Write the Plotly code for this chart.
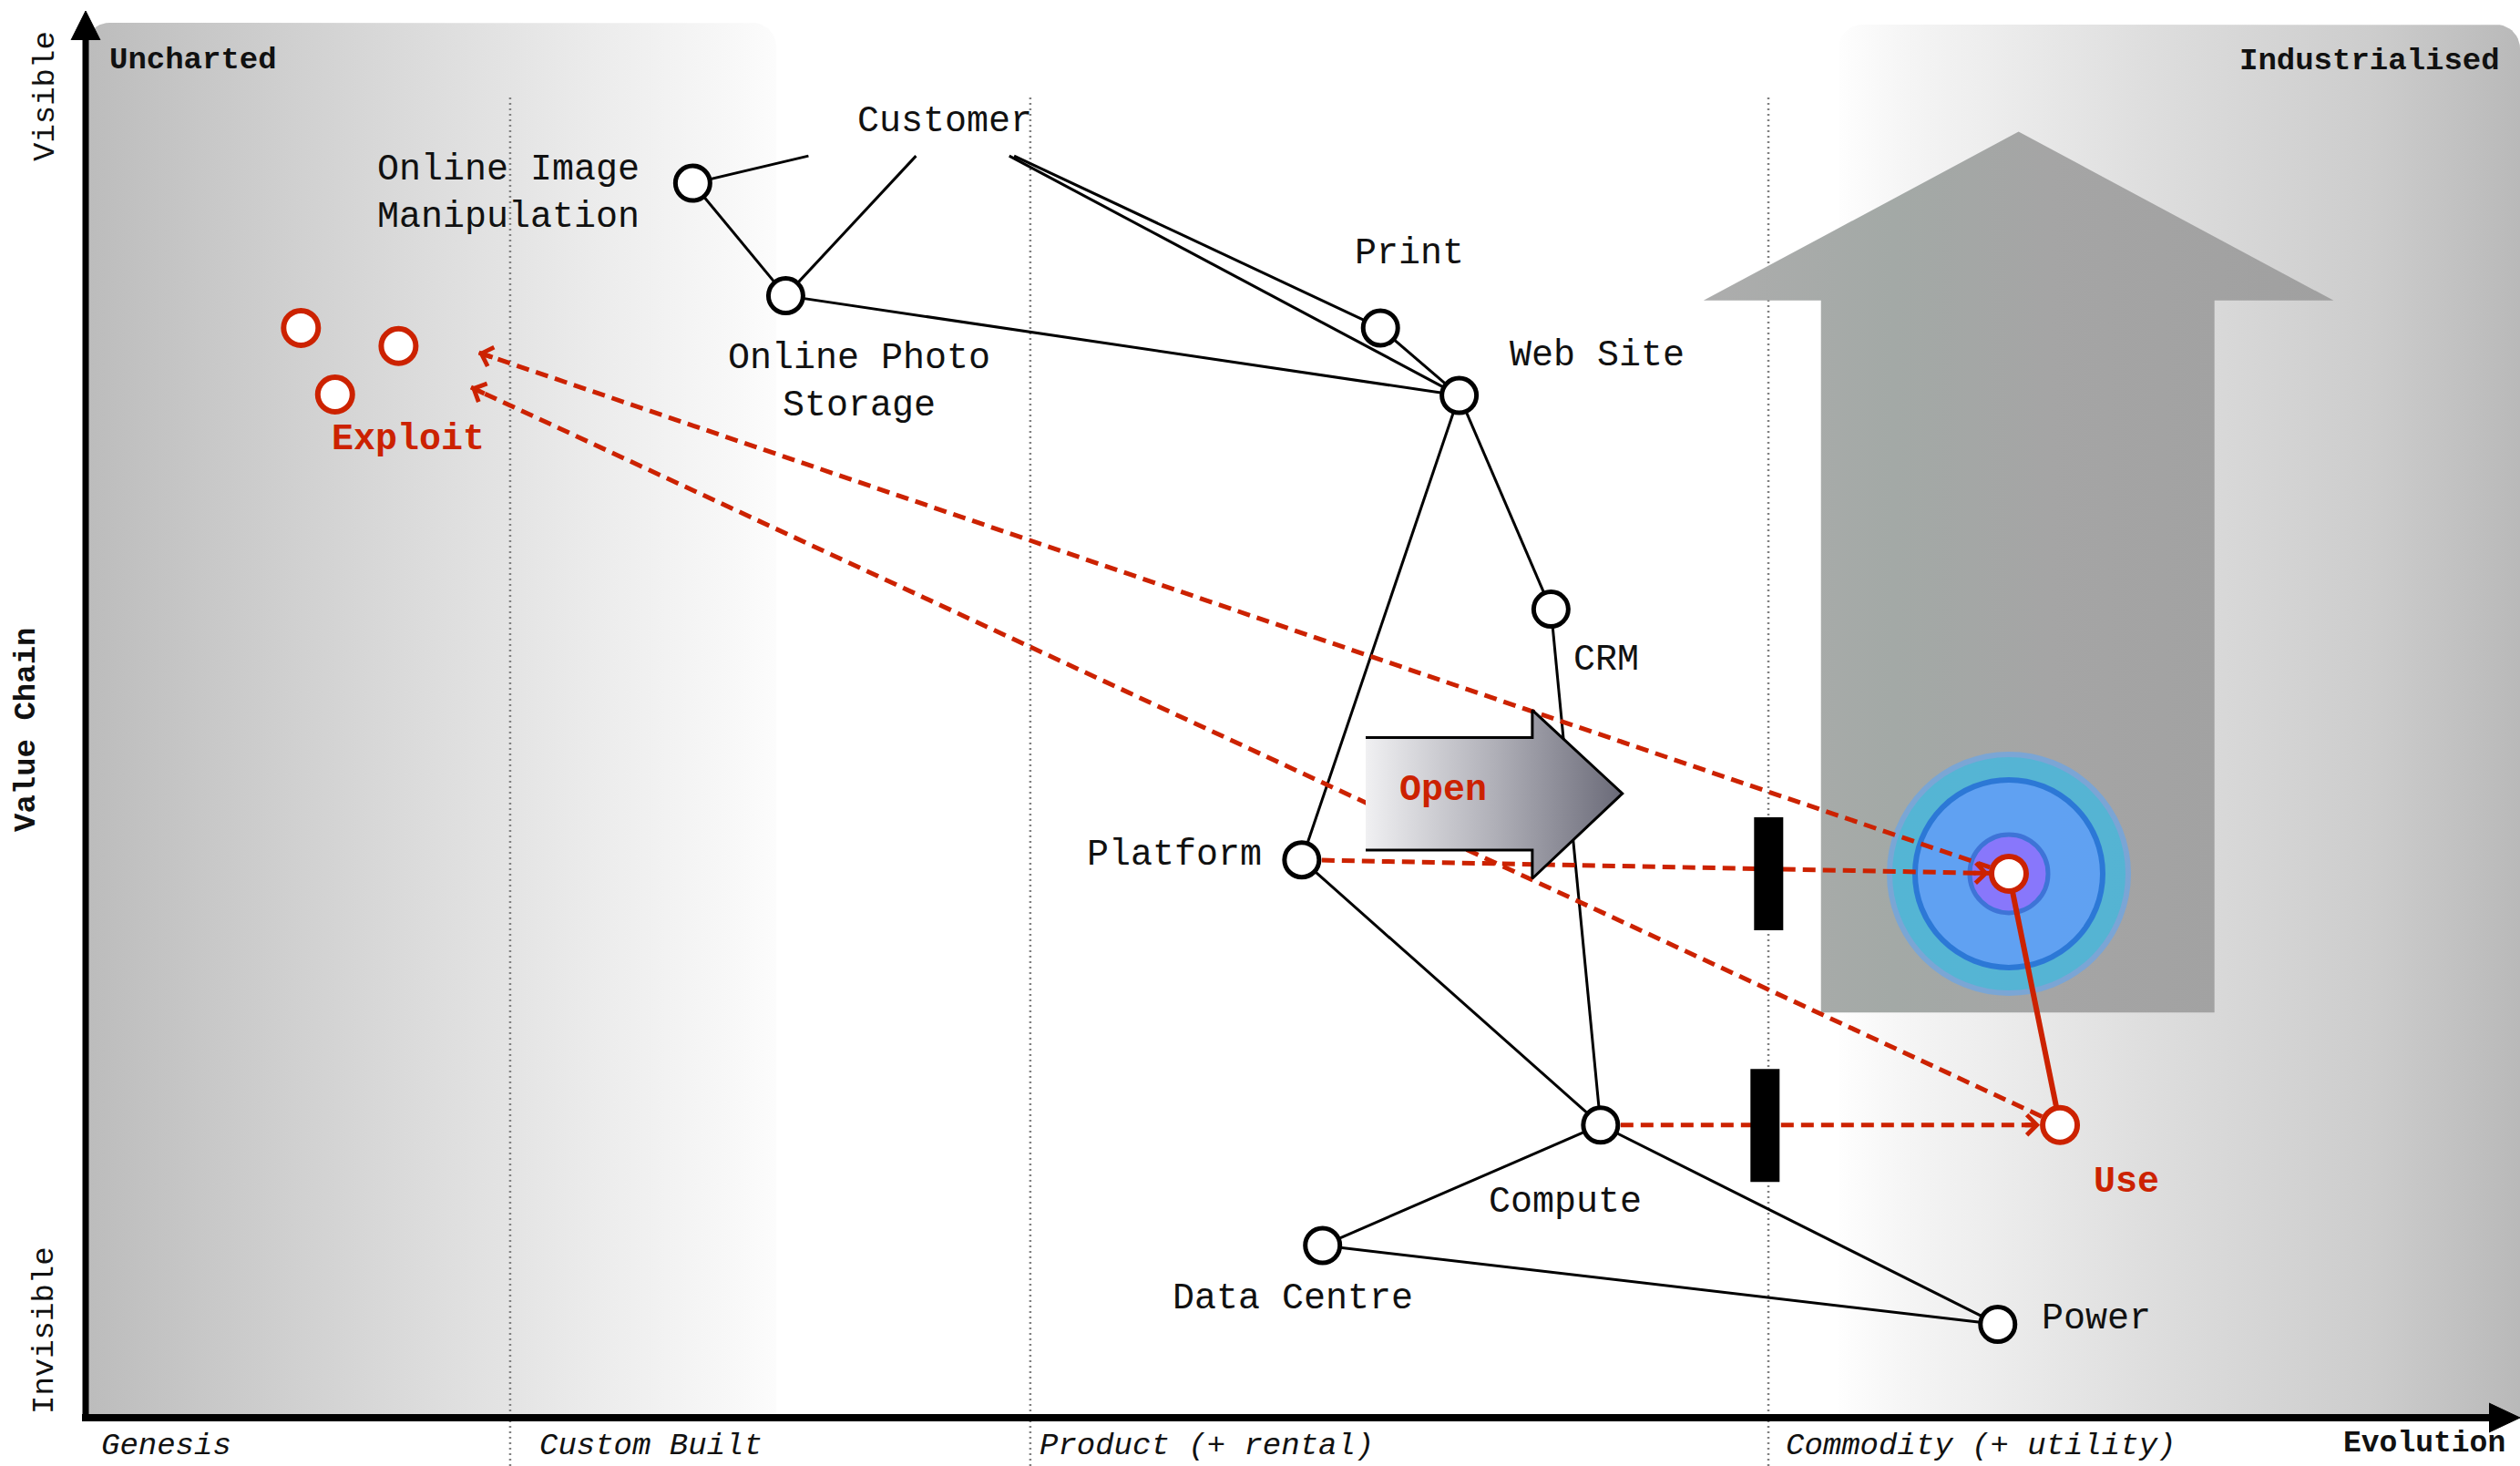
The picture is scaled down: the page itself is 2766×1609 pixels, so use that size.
import numpy as np
import plotly.graph_objects as go

# ---------------- data (evolution 0..1, visibility 0..1) ----------------
components = ["Online Image<br>Manipulation", "Online Photo<br>Storage", "Print", "Web Site",
              "CRM", "Platform", "Compute", "Data Centre", "Power"]
evolution = [0.2507, 0.2891, 0.5347, 0.5672, 0.6051, 0.5022, 0.6256, 0.5108, 0.7896]
visibility = [0.8827, 0.8022, 0.7792, 0.7309, 0.5781, 0.3989, 0.2093, 0.1231, 0.0668]
links = [(0, 1), (1, 3), (2, 3), (3, 4), (3, 5), (4, 6), (5, 6), (6, 7), (6, 8), (7, 8)]

customer_label = "Customer"
customer_evolution = 0.3548
customer_visibility = 0.9264
customer_link_from_evolution = [0.2985, 0.3429, 0.3834, 0.3814]
customer_link_from_visibility = 0.9022
customer_link_to = [0, 1, 2, 3]

future_labels = ["Platform (utility)", "Use"]
future_evolution = [0.7942, 0.8153]
future_visibility = [0.3890, 0.2093]

exploit_evolution = [0.0889, 0.1292, 0.1030]
exploit_visibility = [0.7792, 0.7663, 0.7316]
exploit_target_evolution = [0.1622, 0.1591]
exploit_target_visibility = [0.7616, 0.7368]

inertia_evolution = [0.6950, 0.6935]
inertia_visibility = [0.3890, 0.2090]

stage_labels = ["Genesis", "Custom Built", "Product (+ rental)", "Commodity (+ utility)"]
stage_boundaries = [0.1753, 0.3901, 0.6949]

open_arrow_evolution = [0.5286, 0.5974, 0.5974, 0.6346, 0.5974, 0.5974, 0.5286]
open_arrow_visibility = [0.4864, 0.4864, 0.5059, 0.4463, 0.3855, 0.4059, 0.4059]

industrial_arrow_evolution = [0.7166, 0.7166, 0.6681, 0.7982, 0.9283, 0.8791, 0.8791]
industrial_arrow_visibility = [0.2897, 0.7988, 0.7988, 0.9195, 0.7988, 0.7988, 0.2897]

# ---------------- geometry helpers ----------------
W, H = 2766, 1609
X0, XS = 94.0, 2658.0    # pixel of evolution 0, pixels per unit
Y0, YS = 1556.0, 1535.0  # pixel of visibility 0, pixels per unit


def ex(px):
    return (px - X0) / XS


def vy(py):
    return (Y0 - py) / YS


RED = "#cc2200"
FONT = "Liberation Mono"


def panel(x0, y0, x1, y1, r, tl, tr):
    pts = [(x0, y1)]
    if tl:
        for t in np.linspace(np.pi, np.pi / 2, 12):
            pts.append((x0 + r + r * np.cos(t), y0 + r - r * np.sin(t)))
    else:
        pts.append((x0, y0))
    if tr:
        for t in np.linspace(np.pi / 2, 0, 12):
            pts.append((x1 - r + r * np.cos(t), y0 + r - r * np.sin(t)))
    else:
        pts.append((x1, y0))
    pts.append((x1, y1))
    return [ex(p[0]) for p in pts], [vy(p[1]) for p in pts]


fig = go.Figure()

# background panels
lx, ly = panel(X0, 25, 852, Y0, 26, True, True)
fig.add_trace(go.Scatter(x=lx, y=ly, mode="lines", fill="toself", line=dict(width=0),
                         fillgradient=dict(type="horizontal",
                                           colorscale=[[0, "#bcbcbc"], [0.3, "#d0d0d0"],
                                                       [0.65, "#e6e6e6"], [1, "#fcfcfc"]]),
                         hoverinfo="skip", showlegend=False))
rx, ry = panel(2018, 27, W, Y0, 26, True, True)
fig.add_trace(go.Scatter(x=rx, y=ry, mode="lines", fill="toself", line=dict(width=0),
                         fillgradient=dict(type="horizontal",
                                           colorscale=[[0, "#fefefe"], [0.1, "#f5f5f5"],
                                                       [0.45, "#dedede"], [0.78, "#cdcdcd"],
                                                       [1, "#b9b9b9"]]),
                         hoverinfo="skip", showlegend=False))

# stage dotted lines
gx, gy = [], []
for b in stage_boundaries:
    gx += [b, b, None]
    gy += [vy(107), vy(H), None]
fig.add_trace(go.Scatter(x=gx, y=gy, mode="lines",
                         line=dict(color="#808080", width=2.5, dash="2px,4px"),
                         hoverinfo="skip", showlegend=False))

# industrialisation arrow
fig.add_trace(go.Scatter(x=industrial_arrow_evolution, y=industrial_arrow_visibility,
                         mode="lines", fill="toself", line=dict(width=0),
                         fillgradient=dict(type="horizontal",
                                           colorscale=[[0, "#adadad"], [0.3, "#a3a9a6"],
                                                       [0.55, "#a5a5a5"], [1, "#a0a0a0"]]),
                         hoverinfo="skip", showlegend=False))

# target rings around the utility platform
fig.add_trace(go.Scatter(x=[future_evolution[0]] * 3, y=[future_visibility[0]] * 3, mode="markers",
                         marker=dict(size=[262, 206, 86],
                                     color=["#34bbe8", "#6699ff", "#9966ff"],
                                     line=dict(color=["#6aa6ea", "#1c5fd8", "#3062cc"],
                                               width=[6, 6, 5])),
                         hoverinfo="skip", showlegend=False))

# value chain links
ex_, vy_ = [], []
for a, b in links:
    ex_ += [evolution[a], evolution[b], None]
    vy_ += [visibility[a], visibility[b], None]
for s, t in zip(customer_link_from_evolution, customer_link_to):
    ex_ += [s, evolution[t], None]
    vy_ += [customer_link_from_visibility, visibility[t], None]
fig.add_trace(go.Scatter(x=ex_, y=vy_, mode="lines", line=dict(color="#000000", width=3),
                         hoverinfo="skip", showlegend=False))

# solid red link platform(utility) - use
fig.add_trace(go.Scatter(x=future_evolution, y=future_visibility, mode="lines",
                         line=dict(color=RED, width=6), hoverinfo="skip", showlegend=False))

# dashed red movements
moves = [
    (evolution[5], visibility[5], future_evolution[0], future_visibility[0], 22),
    (evolution[6], visibility[6], future_evolution[1], future_visibility[1], 22),
    (future_evolution[0], future_visibility[0], exploit_target_evolution[0], exploit_target_visibility[0], 0),
    (future_evolution[1], future_visibility[1], exploit_target_evolution[1], exploit_target_visibility[1], 0),
]
mx, my = [], []
for a, b, c, d, _ in moves:
    mx += [a, c, None]
    my += [b, d, None]
fig.add_trace(go.Scatter(x=mx, y=my, mode="lines", line=dict(color=RED, width=5, dash="14px,8px"),
                         hoverinfo="skip", showlegend=False))

# "Open" arrow
fig.add_trace(go.Scatter(x=open_arrow_evolution, y=open_arrow_visibility, mode="lines", fill="toself",
                         line=dict(color="#000000", width=3),
                         fillgradient=dict(type="horizontal",
                                           colorscale=[[0, "#f0f0f2"], [0.5, "#b0b0b8"], [1, "#6a6a78"]]),
                         hoverinfo="skip", showlegend=False))

# nodes
fig.add_trace(go.Scatter(x=evolution, y=visibility, mode="markers",
                         marker=dict(size=38, color="white", line=dict(color="black", width=5)),
                         hoverinfo="skip", showlegend=False))
fig.add_trace(go.Scatter(x=exploit_evolution + future_evolution,
                         y=exploit_visibility + future_visibility, mode="markers",
                         marker=dict(size=38, color="white", line=dict(color=RED, width=6)),
                         hoverinfo="skip", showlegend=False))

# axes (thick arrows)
fig.add_trace(go.Scatter(x=[ex(X0 - 4), ex(2736)], y=[0, 0], mode="lines",
                         line=dict(color="black", width=8), hoverinfo="skip", showlegend=False))
fig.add_trace(go.Scatter(x=[0, 0], y=[vy(Y0 + 4), vy(40)], mode="lines",
                         line=dict(color="black", width=7), hoverinfo="skip", showlegend=False))
fig.add_trace(go.Scatter(x=[ex(2732), ex(W), ex(2732)], y=[vy(Y0 - 16), vy(Y0), vy(Y0 + 16)],
                         mode="lines", fill="toself", fillcolor="black", line=dict(color="black", width=1),
                         hoverinfo="skip", showlegend=False))
fig.add_trace(go.Scatter(x=[ex(X0 - 16), ex(X0), ex(X0 + 16)], y=[vy(44), vy(12), vy(44)],
                         mode="lines", fill="toself", fillcolor="black", line=dict(color="black", width=1),
                         hoverinfo="skip", showlegend=False))

# inertia bars
shapes = []
for e, v in zip(inertia_evolution, inertia_visibility):
    shapes.append(dict(type="rect", xref="x", yref="y", xsizemode="pixel", ysizemode="pixel",
                       xanchor=e, yanchor=v, x0=-16, x1=16, y0=-62, y1=62,
                       fillcolor="black", line=dict(width=0), layer="above"))

annotations = []

# arrowheads of movements
for a, b, c, d, so in moves:
    pxd = (c - a) * XS
    pyd = -(d - b) * YS
    L = np.hypot(pxd, pyd)
    ln = so + 18
    annotations.append(dict(x=c, y=d, xref="x", yref="y", ax=-pxd / L * ln, ay=-pyd / L * ln,
                            showarrow=True, arrowhead=4, arrowsize=0.85, arrowwidth=5,
                            arrowcolor=RED, standoff=so, text=""))

# component labels: (xanchor, xshift, yshift)
label_pos = [("right", -56, -11), ("center", 81, -95), ("center", 32, 81), ("left", 53, 44),
             ("left", 23, -56), ("right", -42, 5), ("center", -39, -85), ("center", -33, -58),
             ("left", 46, 6)]
for name, e, v, (xa, xs, ys) in zip(components, evolution, visibility, label_pos):
    annotations.append(dict(x=e, y=v, xref="x", yref="y", text=name, showarrow=False,
                            xanchor=xa, yanchor="middle", xshift=xs, yshift=ys, align="center",
                            font=dict(family=FONT, size=40, color="#111111")))
annotations.append(dict(x=customer_evolution, y=customer_visibility, xref="x", yref="y",
                        text=customer_label, showarrow=False, xanchor="center", yanchor="middle",
                        font=dict(family=FONT, size=40, color="#111111")))

# red labels
annotations.append(dict(x=exploit_evolution[2], y=exploit_visibility[2], xref="x", yref="y",
                        text="<b>Exploit</b>", showarrow=False, xanchor="center", yanchor="middle",
                        xshift=80, yshift=-50, font=dict(family=FONT, size=40, color=RED)))
annotations.append(dict(x=future_evolution[1], y=future_visibility[1], xref="x", yref="y",
                        text="<b>Use</b>", showarrow=False, xanchor="center", yanchor="middle",
                        xshift=73, yshift=-63, font=dict(family=FONT, size=40, color=RED)))
annotations.append(dict(x=(open_arrow_evolution[0] + open_arrow_evolution[1]) / 2,
                        y=(open_arrow_visibility[0] + open_arrow_visibility[-1]) / 2,
                        xref="x", yref="y", text="<b>Open</b>", showarrow=False,
                        xanchor="center", yanchor="middle", xshift=-6, yshift=4,
                        font=dict(family=FONT, size=40, color=RED)))

# frame labels
annotations.append(dict(x=ex(118), y=vy(66), xref="x", yref="y", text="<b>Uncharted</b>",
                        showarrow=False, xanchor="left", yanchor="middle",
                        font=dict(family=FONT, size=34, color="#111111")))
annotations.append(dict(x=ex(2746), y=vy(67), xref="x", yref="y", text="<b>Industrialised</b>",
                        showarrow=False, xanchor="right", yanchor="middle",
                        font=dict(family=FONT, size=34, color="#111111")))
stage_starts = [ex(109)] + [b + 30 / XS for b in stage_boundaries]
stage_starts[2] = stage_boundaries[1] + 8 / XS
stage_starts[3] = stage_boundaries[2] + 17 / XS
for lab, s in zip(stage_labels, stage_starts):
    annotations.append(dict(x=s, y=vy(1587), xref="x", yref="y", text="<i>" + lab + "</i>",
                            showarrow=False, xanchor="left", yanchor="middle",
                            font=dict(family=FONT, size=34, color="#111111")))
annotations.append(dict(x=ex(2752), y=vy(1584), xref="x", yref="y", text="<b>Evolution</b>",
                        showarrow=False, xanchor="right", yanchor="middle",
                        font=dict(family=FONT, size=33, color="#111111")))
annotations.append(dict(x=ex(50), y=vy(106), xref="x", yref="y", text="Visible", textangle=-90,
                        showarrow=False, xanchor="center", yanchor="middle",
                        font=dict(family=FONT, size=34, color="#111111")))
annotations.append(dict(x=ex(29), y=vy(801), xref="x", yref="y", text="<b>Value Chain</b>", textangle=-90,
                        showarrow=False, xanchor="center", yanchor="middle",
                        font=dict(family=FONT, size=34, color="#111111")))
annotations.append(dict(x=ex(49), y=vy(1460), xref="x", yref="y", text="Invisible", textangle=-90,
                        showarrow=False, xanchor="center", yanchor="middle",
                        font=dict(family=FONT, size=34, color="#111111")))

fig.update_layout(
    width=W, height=H, margin=dict(l=0, r=0, t=0, b=0),
    paper_bgcolor="white", plot_bgcolor="white",
    xaxis=dict(range=[ex(0), ex(W)], visible=False, fixedrange=True),
    yaxis=dict(range=[vy(H), vy(0)], visible=False, fixedrange=True),
    shapes=shapes, annotations=annotations, showlegend=False,
)

fig.write_html("out.html", config={"displayModeBar": False},
               post_script="document.body.style.margin='0';document.body.style.overflow='hidden';")
